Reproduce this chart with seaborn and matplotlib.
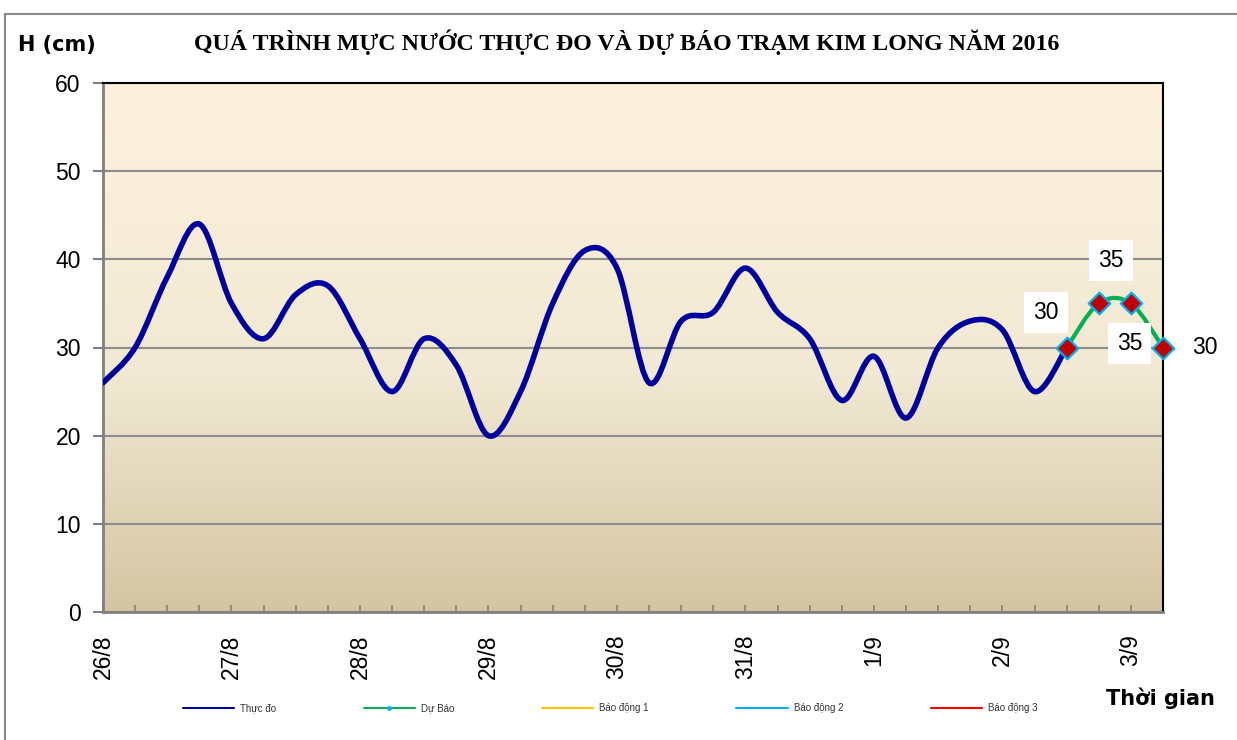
import numpy as np
import matplotlib
matplotlib.use("Agg")
import matplotlib.pyplot as plt
import seaborn as sns
from matplotlib.path import Path
from matplotlib.patches import PathPatch, Rectangle
from matplotlib.lines import Line2D
from matplotlib.colors import LinearSegmentedColormap

# data (one value every 6 hours, index 0 = 26/8)
day_labels = ["26/8", "27/8", "28/8", "29/8", "30/8", "31/8", "1/9", "2/9", "3/9"]
steps_per_day = 4
n_steps = 34
thuc_do = [26, 30, 38, 44, 35, 31, 36, 37, 31, 25, 31, 28, 20, 25, 35, 41,
           39, 26, 33, 34, 39, 34, 31, 24, 29, 22, 30, 33, 32, 25, 30]
du_bao = [30, 35, 35, 30]
du_bao_start = 30
legend_names = ["Thực đo", "Dự Báo", "Báo động 1", "Báo động 2", "Báo động 3"]

sns.set_style("white")
plt.rcParams['font.family'] = ['Liberation Sans', 'DejaVu Sans']
plt.rcParams['text.color'] = 'black'
plt.rcParams['xtick.labelcolor'] = 'black'
plt.rcParams['ytick.labelcolor'] = 'black'


def smooth_path(xs, ys):
    # excel-like smoothed line: cubic bezier through every point
    pts = np.column_stack([xs, ys]).astype(float)
    ext = np.vstack([pts[0], pts, pts[-1]])
    verts = [pts[0]]
    codes = [Path.MOVETO]
    for k in range(len(pts) - 1):
        p0, p1, p2, p3 = ext[k], ext[k + 1], ext[k + 2], ext[k + 3]
        verts += [p1 + (p2 - p0) / 6, p2 - (p3 - p1) / 6, p2]
        codes += [Path.CURVE4] * 3
    return Path(verts, codes)


fig = plt.figure(figsize=(12.37, 7.40), dpi=100)
ax = fig.add_axes([103 / 1237, 128 / 740, 1060 / 1237, 529 / 740])

# background gradient
grad = LinearSegmentedColormap.from_list(
    "bg", [(0, "#D4C5A2"), (0.45, "#F1E9D3"), (1, "#FDF1DD")])
ax.imshow(np.linspace(0, 1, 256).reshape(-1, 1), cmap=grad, origin="lower",
          extent=[0, n_steps - 1, 0, 60], aspect="auto", zorder=-2)

x_obs = np.arange(len(thuc_do))
x_fc = np.arange(du_bao_start, du_bao_start + len(du_bao))

ax.add_patch(PathPatch(smooth_path(x_obs, thuc_do), fill=False,
                       edgecolor="#0000A0", lw=4.0, capstyle="round", zorder=3))
ax.add_patch(PathPatch(smooth_path(x_fc, du_bao), fill=False,
                       edgecolor="#00B050", lw=3.0, zorder=3))
sns.scatterplot(x=x_fc, y=du_bao, ax=ax, marker="D", s=120, color="#C00000",
                edgecolor="#00B0F0", linewidth=1.6, zorder=4, clip_on=False)

# data labels on the forecast points
offsets = [(-15, 25), (9, 31), (-1, -29), (30, 0)]
for xv, yv, off in zip(x_fc, du_bao, offsets):
    ax.annotate(str(yv), (xv, yv), xytext=off, textcoords="offset points",
                ha="center", va="center", fontsize=16.5, zorder=5, color="black",
                bbox=dict(boxstyle="square,pad=0.4", fc="white", ec="none"),
                annotation_clip=False)

ax.set_xlim(0, n_steps - 1)
ax.set_ylim(0, 60)
ax.set_yticks(range(0, 61, 10))
ax.yaxis.grid(True, color="#8C8C8C", lw=1.5)
ax.set_axisbelow(True)
ax.tick_params(axis="y", direction="out", length=7, width=1.5, color="#808080",
               labelsize=16.5, pad=9, left=True, labelcolor="black")

ticks = np.arange(n_steps)
labels = [day_labels[t // steps_per_day] if t % steps_per_day == 0 else "" for t in ticks]
ax.set_xticks(ticks)
ax.set_xticklabels(labels, rotation=90, va="top", ha="center")
ax.tick_params(axis="x", direction="in", length=5, width=1.2, color="#808080",
               labelsize=16.5, pad=16, bottom=True, labelcolor="black")

for side in ["left", "bottom"]:
    ax.spines[side].set_color("#808080")
    ax.spines[side].set_linewidth(2)
for side in ["top", "right"]:
    ax.spines[side].set_color("black")
    ax.spines[side].set_linewidth(1.5)

fig.text(627 / 1237, 1 - 42 / 740,
         "QUÁ TRÌNH MỰC NƯỚC THỰC ĐO VÀ DỰ BÁO TRẠM KIM LONG NĂM 2016",
         ha="center", va="center", fontsize=17.2, fontweight="bold", color="black",
         family=["Liberation Serif", "DejaVu Serif"])
fig.text(18 / 1237, 1 - 45 / 740, "H (cm)", ha="left", va="center", color="black",
         fontsize=15, fontweight="bold", family=["DejaVu Sans"])
fig.text(1160 / 1237, 1 - 698 / 740, "Thời gian", ha="center", va="center",
         color="black", fontsize=15, fontweight="bold", family=["DejaVu Sans"])

handles = [
    Line2D([], [], color="#0000A0", lw=1.5),
    Line2D([0, 0.5, 1], [0, 0, 0], color="#00B050", lw=1.5, marker="o",
           markersize=2.5, markerfacecolor="#00B0F0", markeredgecolor="#00B0F0",
           markevery=[1]),
    Line2D([], [], color="#FFC000", lw=1.5),
    Line2D([], [], color="#00B0F0", lw=1.5),
    Line2D([], [], color="#FF0000", lw=1.5),
]
fig.legend(handles, legend_names, loc="center", ncol=5, frameon=False,
           bbox_to_anchor=(610 / 1237, 1 - 708 / 740), fontsize=7,
           handlelength=5.3, handletextpad=0.6, columnspacing=9,
           labelcolor="#333333")

fig.add_artist(Rectangle((5 / 1237, -0.1), 1.2, 1.1 - 14 / 740,
                         transform=fig.transFigure, fill=False,
                         edgecolor="#8A8A8A", lw=1.5))

fig.savefig("out.png", dpi=100)
